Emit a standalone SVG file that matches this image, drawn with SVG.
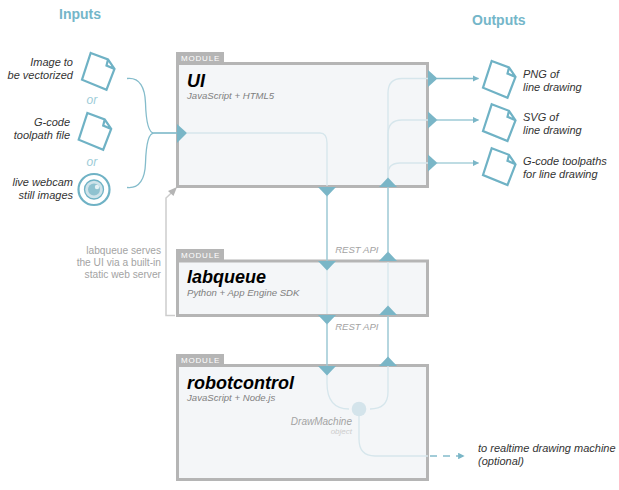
<svg xmlns="http://www.w3.org/2000/svg" width="619" height="490" viewBox="0 0 619 490">
<style>
text{font-family:"Helvetica Neue","Liberation Sans",Arial,sans-serif}
.box{fill:#f4f6f8;stroke:#b5b5b5;stroke-width:3}
.tab{fill:#b5b5b5}
.tabt{font-size:8px;fill:#fff;letter-spacing:0.800px}
.title{font-size:18px;font-weight:bold;font-style:italic;fill:#000}
.sub{font-size:9.600px;font-style:italic;fill:#808080}
.lab{font-size:11px;font-style:italic;fill:#333}
.or{font-size:12px;font-style:italic;fill:#9ccbd7}
.head{font-size:14px;font-weight:bold;fill:#74b6c9}
.gray{font-size:10.200px;fill:#a3a3a3}
.rest{font-size:9.600px;font-style:italic;fill:#a3a3a3}
.doc{fill:#fff;stroke:#6fb2c5;stroke-width:2.200;stroke-linejoin:miter}
.c{fill:none;stroke:#84bccb;stroke-width:1.300}
.f{fill:none;stroke:#d6e6ec;stroke-width:1.300}
.v{fill:none;stroke:#9cc8d4;stroke-width:1.500}
.t{fill:#7ab6c7}
</style>
<defs>
<marker id="ah" viewBox="0 0 10 10" refX="9" refY="5" markerWidth="6.500" markerHeight="6.500" markerUnits="userSpaceOnUse" orient="auto"><path d="M0 0L10 5L0 10Z" fill="#7ab6c7"/></marker>
<g id="doc"><path class="doc" d="M9.700 1L27 7.500L33.500 17L25.500 37.700L1 27.700ZM27 7.500L25.500 13.500L33.500 17"/></g>
</defs>
<g id="inputs-head"><text class="head" x="59" y="19">Inputs</text></g>
<g id="outputs-head"><text class="head" x="472" y="25">Outputs</text></g>

<g id="module-ui"><rect class="tab" x="176" y="52" width="48" height="12"/><text class="tabt" x="181" y="61">MODULE</text><rect class="box" x="177.500" y="63.500" width="250" height="123"/><text class="title" x="187" y="87">UI</text><text class="sub" x="187" y="99">JavaScript + HTML5</text></g>
<g id="module-labqueue"><rect class="tab" x="176" y="249" width="48" height="12"/><text class="tabt" x="181" y="258">MODULE</text><rect class="box" x="177.500" y="261" width="250" height="54.500"/><text class="title" x="187" y="283">labqueue</text><text class="sub" x="187" y="296">Python + App Engine SDK</text></g>
<g id="module-robotcontrol"><rect class="tab" x="176" y="354" width="48" height="12"/><text class="tabt" x="181" y="363">MODULE</text><rect class="box" x="177.500" y="365.500" width="250" height="114"/><text class="title" x="187" y="389">robotcontrol</text><text class="sub" x="187" y="401">JavaScript + Node.js</text><text x="352" y="425" text-anchor="end" style="fill:#a3a3a3;font-size:10px;font-style:italic">DrawMachine</text><text x="352" y="434" text-anchor="end" style="fill:#ccc;font-size:8px;font-style:italic">object</text></g>

<g id="connectors">
<path class="c" d="M127 78.500C140 77 145 88 145.500 103C146 120 148 133 154 133C148 133 146 146 145.500 163C145 178 140 189 127 187.500"/>
<path class="c" d="M154 133H177" style="stroke-width:1.700"/>
<path class="f" d="M187 133H320Q327 133 327 143V186"/>
<path class="f" d="M388 178V93Q388 78.500 402 78.500H428"/>
<path class="f" d="M388 178V134Q388 120 402 120H428"/>
<path class="f" d="M388 178V174Q388 163 400 163H428"/>
<path class="c" d="M437 78.500H478.500" marker-end="url(#ah)"/>
<path class="c" d="M437 120H478.500" marker-end="url(#ah)" style="stroke:#9ccad6"/>
<path class="c" d="M437 163H478.500" marker-end="url(#ah)" style="stroke:#a8d0da"/>
<path class="v" d="M327 196V262"/>
<path class="v" d="M388 187V252"/>
<path class="f" d="M327 270V314"/>
<path class="f" d="M388 262V306"/>
<path class="v" d="M327 324V366"/>
<path class="v" d="M388 316V358"/>
<path class="f" d="M327 374V383Q327 409 349 409"/>
<path class="f" d="M388 366V392Q388 409 370 409"/>
<path class="f" d="M359 409V439Q359 456 375 456H428"/>
<path class="c" d="M430 456H464" stroke-dasharray="7 6" marker-end="url(#ah)"/>
<path d="M175 315.500H166V198L175 189.500" fill="none" stroke="#cdcdcd" stroke-width="1.500"/>
<path d="M177 187L173.500 196L168 191Z" fill="#b5b5b5"/>
<path class="t" d="M177 124L187 133L177 143Z"/>
<path class="t" d="M428 70L437.500 78.500L428 87Z"/>
<path class="t" d="M428 111.500L437.500 120L428 128.500Z"/>
<path class="t" d="M428 154.500L437.500 163L428 171.500Z"/>
<path class="t" d="M318 187H336L327 196.500Z"/>
<path class="t" d="M379 187H397L388 177.500Z"/>
<path class="t" d="M318 261H336L327 270.500Z"/>
<path class="t" d="M379 261H397L388 251.500Z"/>
<path class="t" d="M318 315H336L327 324.500Z"/>
<path class="t" d="M379 315H397L388 305.500Z"/>
<path class="t" d="M318 366H336L327 375.500Z"/>
<path class="t" d="M379 366H397L388 356.500Z"/>
<circle cx="359" cy="409" r="7.300" fill="#d4e4eb"/>
</g>

<g id="input-image"><use href="#doc" x="81" y="52"/><text class="lab" x="73" y="66" text-anchor="end">Image to</text><text class="lab" x="73" y="79" text-anchor="end">be vectorized</text></g>
<g id="input-gcode"><use href="#doc" x="77.700" y="112"/><text class="lab" x="70" y="126" text-anchor="end">G-code</text><text class="lab" x="70" y="139" text-anchor="end">toolpath file</text></g>
<g id="input-webcam"><circle cx="94" cy="189.500" r="15.500" fill="#fff" stroke="#6fb2c5" stroke-width="2.200"/><circle cx="94" cy="189.500" r="9.500" fill="#cfe3ea" stroke="#6fb2c5" stroke-width="1.300"/><circle cx="94" cy="189.500" r="6" fill="#8fc2d0"/><circle cx="97" cy="187" r="2.200" fill="#e6f1f5"/><text class="lab" x="73" y="186" text-anchor="end">live webcam</text><text class="lab" x="73" y="199" text-anchor="end">still images</text></g>
<g id="or-labels"><text class="or" x="86.500" y="104">or</text><text class="or" x="86.500" y="166">or</text></g>

<g id="output-png"><use href="#doc" x="482" y="60"/><text class="lab" x="523" y="78">PNG of</text><text class="lab" x="523" y="91">line drawing</text></g>
<g id="output-svg"><use href="#doc" x="482" y="103.300"/><text class="lab" x="523" y="121">SVG of</text><text class="lab" x="523" y="134">line drawing</text></g>
<g id="output-gcode"><use href="#doc" x="482" y="147.300"/><text class="lab" x="523" y="165">G-code toolpaths</text><text class="lab" x="523" y="178">for line drawing</text></g>

<g id="notes">
<text class="gray" x="161" y="254" text-anchor="end">labqueue serves</text><text class="gray" x="161" y="266" text-anchor="end">the UI via a built-in</text><text class="gray" x="161" y="278" text-anchor="end">static web server</text>
<text class="rest" x="378.500" y="253" text-anchor="end">REST API</text>
<text class="rest" x="378.500" y="330" text-anchor="end">REST API</text>
<text class="lab" x="478" y="452">to realtime drawing machine</text>
<text class="lab" x="478" y="465">(optional)</text>
</g>
</svg>
